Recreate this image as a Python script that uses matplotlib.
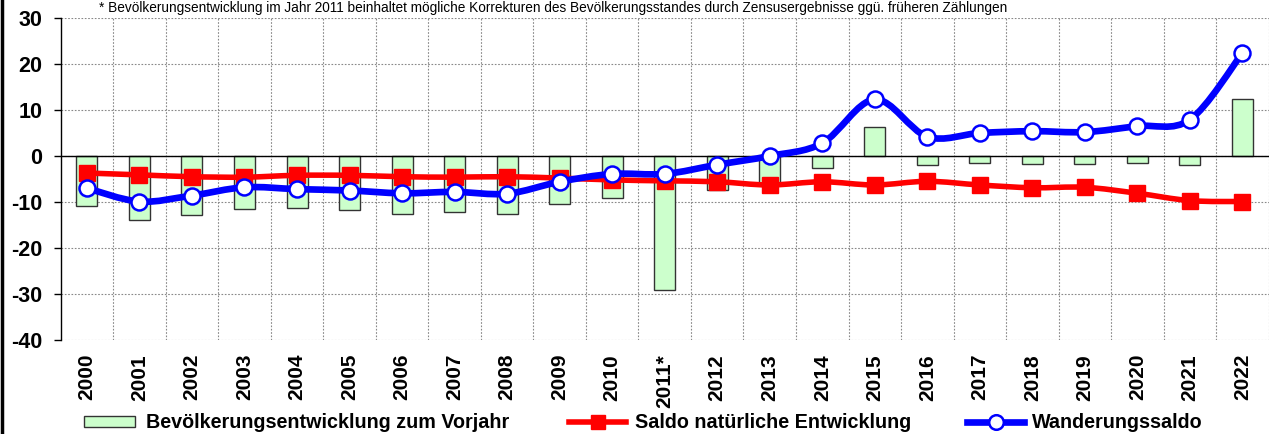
import numpy as np
import matplotlib
matplotlib.use("Agg")
import matplotlib.pyplot as plt
from matplotlib.path import Path
from matplotlib.patches import PathPatch, Patch
from matplotlib.lines import Line2D

plt.rcParams['font.family'] = ['Liberation Sans', 'DejaVu Sans']
plt.rcParams['axes.unicode_minus'] = False

# data (1000 persons)
years = ['2000', '2001', '2002', '2003', '2004', '2005', '2006', '2007', '2008', '2009',
         '2010', '2011*', '2012', '2013', '2014', '2015', '2016', '2017', '2018', '2019',
         '2020', '2021', '2022']
bev_vorjahr = [-10.8, -13.9, -12.9, -11.5, -11.4, -11.7, -12.6, -12.2, -12.6, -10.4,
               -9.1, -29.1, -7.4, -6.3, -2.6, 6.2, -2.0, -1.5, -1.8, -1.8, -1.6, -2.0, 12.4]
saldo_nat = [-3.7, -4.1, -4.5, -4.6, -4.2, -4.2, -4.5, -4.6, -4.5, -4.8,
             -5.2, -5.4, -5.6, -6.3, -5.6, -6.3, -5.5, -6.3, -6.9, -6.8, -8.1, -9.7, -9.9]
wanderung = [-7.0, -9.9, -8.6, -6.8, -7.2, -7.5, -8.1, -7.8, -8.2, -5.6,
             -3.9, -3.9, -1.9, 0.0, 2.8, 12.3, 4.2, 5.0, 5.4, 5.2, 6.5, 7.9, 22.4]

labels = ['Bevölkerungsentwicklung zum Vorjahr', 'Saldo natürliche Entwicklung', 'Wanderungssaldo']
note = ('* Bevölkerungsentwicklung im Jahr 2011 beinhaltet mögliche Korrekturen des '
        'Bevölkerungsstandes durch Zensusergebnisse ggü. früheren Zählungen')


def smooth_path(x, y):
    # excel-like smoothed line (bezier through the points)
    n = len(x)
    verts = [(x[0], y[0])]
    codes = [Path.MOVETO]
    for i in range(n - 1):
        xa, ya = (x[i - 1], y[i - 1]) if i > 0 else (x[i], y[i])
        xb, yb = (x[i + 2], y[i + 2]) if i + 2 < n else (x[i + 1], y[i + 1])
        c1 = (x[i] + (x[i + 1] - xa) / 6, y[i] + (y[i + 1] - ya) / 6)
        c2 = (x[i + 1] - (xb - x[i]) / 6, y[i + 1] - (yb - y[i]) / 6)
        verts += [c1, c2, (x[i + 1], y[i + 1])]
        codes += [Path.CURVE4] * 3
    return Path(verts, codes)


green = '#CCFFCC'
red = '#FF0000'
blue = '#0000FF'

fig = plt.figure(figsize=(12.69, 4.34), dpi=100)
ax = fig.add_axes([0.0478, 0.2166, 0.952, 0.7419])

x = np.arange(len(years))
ax.bar(x, bev_vorjahr, width=0.4, color=green, edgecolor='#333333', linewidth=1.0, zorder=2)

ax.add_patch(PathPatch(smooth_path(x, saldo_nat), fill=False, edgecolor=red, lw=4.0,
                       capstyle='round', zorder=3))
ax.plot(x, saldo_nat, ls='none', marker='s', ms=11.5, color=red, zorder=4)

ax.add_patch(PathPatch(smooth_path(x, wanderung), fill=False, edgecolor=blue, lw=4.8,
                       capstyle='round', zorder=5))
ax.plot(x, wanderung, ls='none', marker='o', ms=11.5, mfc='white', mec=blue, mew=1.8, zorder=6)

ax.axhline(0, color='black', lw=1.0, zorder=2.5)

ax.set_xlim(-0.5, len(years) - 0.5)
ax.set_ylim(-40, 30)
ax.set_yticks(np.arange(-40, 31, 10))
ax.set_xticks(x)
ax.set_xticklabels(years, rotation=90, fontweight='bold', fontsize=15)
ax.set_xticks(np.arange(0.5, len(years) - 0.5, 1), minor=True)
for t in ax.get_yticklabels():
    t.set_fontweight('bold')
    t.set_fontsize(15.5)
ax.tick_params(axis='x', which='both', length=0, pad=10)
ax.tick_params(axis='y', length=5, width=1, pad=8, direction='out')

ax.grid(axis='y', which='major', color='#888888', ls=(0, (1.5, 1.5)), lw=0.8, zorder=0)
ax.grid(axis='x', which='minor', color='#888888', ls=(0, (1.5, 1.5)), lw=0.8, zorder=0)
ax.axvline(len(years) - 0.5, color='#888888', ls=(0, (1.5, 1.5)), lw=0.8, zorder=0)
for s in ['top', 'right', 'bottom']:
    ax.spines[s].set_visible(False)
ax.spines['left'].set_linewidth(1.0)

fig.text(0.436, 0.981, note, ha='center', va='center', fontsize=9.8)
fig.add_artist(Line2D([0.0018, 0.0018], [0, 1], transform=fig.transFigure, color='black', lw=2.5))

handles = [Patch(facecolor=green, edgecolor='#333333', lw=1.0),
           Line2D([], [], color=red, lw=4.0, marker='s', ms=10.5),
           Line2D([], [], color=blue, lw=4.8, marker='o', ms=10.5, mfc='white', mec=blue, mew=1.8)]
xpos = [84 / 1269, 569 / 1269, 967 / 1269]
hlen = [2.6, 2.9, 2.9]
hpad = [0.56, 0.46, 0.42]
for h, lab, xp, hl, hp in zip(handles, labels, xpos, hlen, hpad):
    fig.legend([h], [lab], loc='center left', bbox_to_anchor=(xp, 0.026), frameon=False,
               prop={'weight': 'bold', 'size': 14.2}, handlelength=hl, handleheight=0.5,
               handletextpad=hp, borderaxespad=0, borderpad=0)

fig.savefig('out.png', dpi=100)
